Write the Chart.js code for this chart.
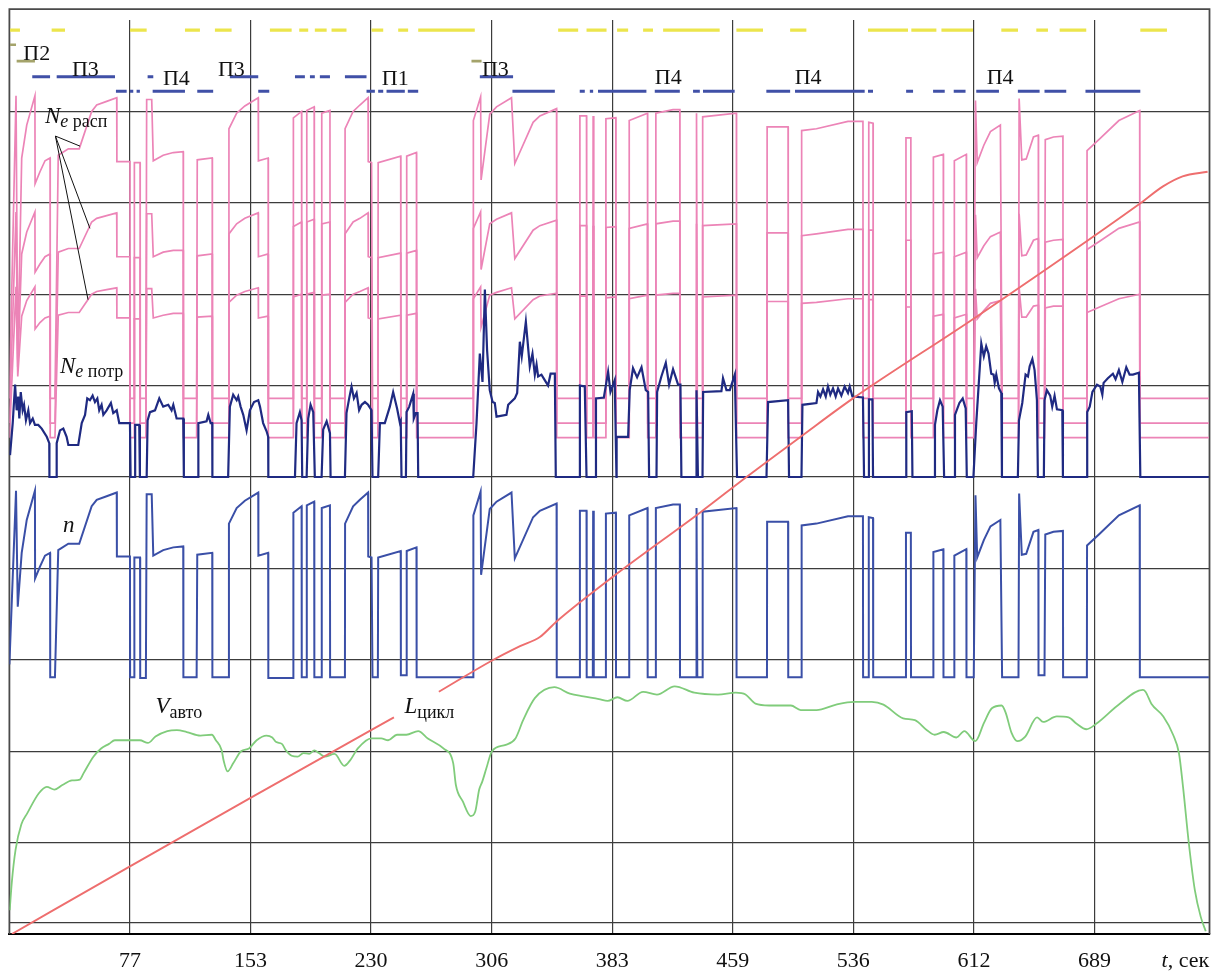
<!DOCTYPE html>
<html>
<head>
<meta charset="utf-8">
<title>Цикл движения</title>
<script src="https://cdn.jsdelivr.net/npm/chart.js@4.4.0/dist/chart.umd.min.js"></script>
<style>
  html, body { margin: 0; padding: 0; background: #ffffff; }
  canvas { display: block; }
</style>
</head>
<body>
<canvas id="cycle" width="1217" height="973"></canvas>
<script>
// ---- axes ----
const xTickValues = [76.5, 153, 229.5, 306, 382.5, 459, 535.5, 612, 688.5];
const xTickLabels = ['77', '153', '230', '306', '383', '459', '536', '612', '689'];
const yGridValues = [0, 0.12, 1, 2, 3, 4, 5, 6, 7, 8, 9];
const timeMax = 761.5;
const frameTop = 10.12;

// ---- vehicle speed V_авто, [t, value] ----
const speedV = [[0.2,0.26],[1.5,0.56],[3.9,0.92],[7.6,1.20],[11.3,1.32],[18.7,1.54],[23.7,1.61],[28.6,1.58],[33.6,1.63],[39.7,1.68],[44.7,1.69],[47.1,1.76],[53.3,1.94],[58.2,2.03],[63.2,2.08],[66.9,2.12],[75.5,2.12],[82.8,2.12],[87.9,2.09],[92.7,2.16],[100.2,2.22],[106.3,2.23],[112.5,2.21],[121.2,2.17],[128.5,2.18],[131.0,2.12],[134.7,2.01],[135.9,1.90],[138.4,1.78],[142.1,1.87],[147.0,2.00],[152.0,2.03],[156.9,2.12],[163.1,2.17],[166.8,2.15],[169.3,2.10],[172.9,2.08],[175.4,2.01],[179.1,1.95],[182.9,1.94],[186.5,1.98],[190.2,1.97],[193.5,2.01],[196.4,1.98],[200.1,1.94],[206.3,1.97],[212.5,1.84],[216.2,1.90],[221.1,2.03],[229.7,2.14],[235.9,2.14],[240.3,2.12],[245.9,2.18],[251.9,2.18],[259.4,2.22],[265.5,2.14],[275.4,2.03],[281.6,1.87],[283.3,1.63],[287.7,1.45],[292.7,1.29],[295.6,1.34],[298.1,1.58],[300.1,1.67],[302.6,1.81],[306.2,2.00],[314.9,2.07],[321.1,2.14],[326.0,2.34],[333.4,2.58],[345.8,2.70],[355.6,2.63],[364.3,2.60],[374.1,2.57],[379.6,2.55],[385.8,2.59],[392.1,2.55],[402.1,2.65],[410.9,2.62],[422.1,2.71],[434.6,2.64],[449.6,2.62],[460.9,2.64],[467.1,2.62],[473.4,2.52],[482.1,2.50],[495.9,2.50],[502.1,2.45],[512.1,2.45],[524.6,2.51],[535.9,2.54],[547.2,2.54],[554.6,2.51],[567.1,2.36],[574.6,2.34],[582.2,2.23],[587.1,2.18],[592.9,2.21],[600.9,2.15],[605.9,2.22],[612.9,2.11],[618.4,2.31],[623.4,2.47],[629.6,2.50],[632.2,2.42],[635.9,2.20],[639.6,2.11],[644.6,2.16],[652.1,2.37],[655.9,2.32],[664.6,2.38],[672.1,2.37],[677.2,2.30],[683.4,2.24],[689.6,2.30],[704.6,2.52],[719.2,2.67],[720.9,2.65],[724.6,2.52],[732.2,2.38],[738.4,2.18],[742.1,1.98],[744.7,1.61],[748.4,0.99],[752.2,0.48],[755.9,0.19],[759.1,0.03]];

// ---- cycle distance L_цикл (null leaves room for its label) ----
const distanceL = [[1.6,0],[76.5,0.74],[153,1.49],[229.5,2.23],[244,2.37],[258,null],[272.5,2.65],[306,2.99],[324,3.15],[336.6,3.25],[347.2,3.42],[383,3.91],[439,4.62],[467.7,5.00],[503.6,5.46],[535.3,5.86],[612.5,6.74],[717.2,7.99],[732,8.18],[744.4,8.29],[760.3,8.34]];

// ---- engine speed n and available power N_e расп (three curves), shared time base ----
const engineTime = [0,4.2,5.3,7.8,11.0,16.2,16.3,19.4,22.6,25.8,
  25.9,28.9,31.0,37.4,44.3,52.2,55.4,61.7,68.1,68.2,
  76.5,76.6,79.2,79.3,82.9,83.0,86.6,87.1,90.3,91.3,
  97.6,104.0,110.3,110.4,118.8,119.2,128.7,128.8,138.8,139.3,
  144.2,149.4,157.9,158.0,164.2,164.3,180.1,180.2,185.4,185.5,
  188.6,188.7,193.4,193.5,198.1,198.2,203.4,203.5,212.9,213.0,
  218.1,222.4,227.6,227.7,229.8,230.4,233.8,234.0,248.3,248.4,
  252.0,252.1,258.3,258.4,294.3,294.4,299.0,299.3,304.8,309.1,
  318.6,320.7,332.3,336.6,347.2,347.3,361.9,362.0,366.2,366.3,
  370.2,370.4,370.8,378.4,378.5,384.8,384.9,393.2,393.3,404.9,
  405.0,410.1,410.2,421.1,425.4,425.5,435.8,436.0,436.5,439.8,
  439.9,461.3,461.4,480.7,480.8,494.1,494.2,502.6,502.7,512.1,
  532.1,541.6,541.7,545.2,545.3,548.0,548.1,568.8,568.9,572.0,
  572.1,586.2,586.3,592.6,592.7,599.5,599.6,607.2,607.3,611.9,
  613.0,614.1,618.3,622.5,628.8,629.9,640.3,640.7,642.4,645.2,
  649.8,652.9,653.0,656.8,657.3,662.5,668.5,668.6,683.7,683.8,
  691.8,704.0,717.2,717.3,761.1];

const engineN = [2.95,4.85,3.58,4.17,4.53,4.85,3.89,4.02,4.14,4.17,
  2.81,2.81,4.20,4.27,4.27,4.68,4.75,4.79,4.83,4.13,
  4.13,2.81,2.81,4.12,4.12,2.80,2.80,4.81,4.81,4.14,
  4.20,4.23,4.24,2.81,2.81,4.15,4.17,2.81,2.81,4.49,
  4.66,4.74,4.83,4.14,4.17,2.80,2.80,4.61,4.68,2.81,
  2.81,4.69,4.73,2.81,2.81,4.66,4.69,2.81,2.81,4.49,
  4.68,4.75,4.83,4.13,4.12,2.81,2.81,4.12,4.19,2.83,
  2.83,4.19,4.23,2.81,2.81,4.58,4.84,3.93,4.65,4.73,
  4.83,4.11,4.56,4.63,4.71,2.81,2.81,4.63,4.63,2.81,
  2.81,4.63,2.81,2.81,4.60,4.61,2.81,2.81,4.58,4.66,
  2.81,2.81,4.66,4.70,4.70,2.81,2.81,4.66,2.81,2.81,
  4.62,4.66,2.81,2.81,4.51,4.51,2.81,2.81,4.47,4.49,
  4.57,4.57,2.81,2.81,4.56,4.55,2.81,2.81,4.39,4.39,
  2.81,2.81,4.18,4.21,2.81,2.81,4.14,4.21,2.81,2.81,
  4.80,4.12,4.31,4.46,4.53,2.81,2.81,4.82,4.15,4.16,
  4.40,4.42,2.83,2.83,4.37,4.40,4.41,2.81,2.81,4.25,
  4.38,4.58,4.69,2.81,2.81];

const availHigh = [5.86,9.17,6.28,8.49,8.85,9.17,8.21,8.34,8.46,8.49,
  5.86,5.86,8.52,8.59,8.59,9.00,9.07,9.11,9.15,8.45,
  8.45,5.86,5.86,8.44,8.44,5.86,5.86,9.13,9.13,8.46,
  8.52,8.55,8.56,5.86,5.86,8.47,8.49,5.86,5.86,8.81,
  8.98,9.06,9.15,8.46,8.49,5.86,5.86,8.93,9.00,5.86,
  5.86,9.01,9.05,5.86,5.86,8.98,9.01,5.86,5.86,8.81,
  9.00,9.07,9.15,8.45,8.44,5.86,5.86,8.44,8.51,5.86,
  5.86,8.51,8.55,5.86,5.86,8.90,9.16,8.25,8.97,9.05,
  9.15,8.43,8.88,8.95,9.03,5.86,5.86,8.95,8.95,5.86,
  5.86,8.95,5.86,5.86,8.92,8.93,5.86,5.86,8.90,8.98,
  5.86,5.86,8.98,9.02,9.02,5.86,5.86,8.98,5.86,5.86,
  8.94,8.98,5.86,5.86,8.83,8.83,5.86,5.86,8.79,8.81,
  8.89,8.89,5.86,5.86,8.88,8.87,5.86,5.86,8.71,8.71,
  5.86,5.86,8.50,8.53,5.86,5.86,8.46,8.53,5.86,5.86,
  9.12,8.44,8.63,8.78,8.85,5.86,5.86,9.14,8.47,8.48,
  8.72,8.74,5.86,5.86,8.69,8.72,8.73,5.86,5.86,8.57,
  8.70,8.90,9.01,5.86,5.86];

const availMid = [5.59,7.90,6.20,7.44,7.68,7.90,7.24,7.33,7.41,7.44,
  5.59,5.59,7.46,7.50,7.50,7.79,7.83,7.86,7.89,7.41,
  7.41,5.59,5.59,7.40,7.40,5.59,5.59,7.88,7.88,7.41,
  7.46,7.48,7.48,5.59,5.59,7.42,7.44,5.59,5.59,7.66,
  7.77,7.83,7.89,7.41,7.44,5.59,5.59,7.74,7.79,5.59,
  5.59,7.79,7.82,5.59,5.59,7.77,7.79,5.59,5.59,7.66,
  7.79,7.83,7.89,7.41,7.40,5.59,5.59,7.40,7.45,5.59,
  5.59,7.45,7.48,5.59,5.59,7.72,7.90,7.27,7.77,7.82,
  7.89,7.39,7.70,7.75,7.81,5.59,5.59,7.75,7.75,5.59,
  5.59,7.75,5.59,5.59,7.73,7.74,5.59,5.59,7.72,7.77,
  5.59,5.59,7.77,7.80,7.80,5.59,5.59,7.77,5.59,5.59,
  7.75,7.77,5.59,5.59,7.67,7.67,5.59,5.59,7.64,7.66,
  7.71,7.71,5.59,5.59,7.70,7.70,5.59,5.59,7.59,7.59,
  5.59,5.59,7.44,7.46,5.59,5.59,7.41,7.46,5.59,5.59,
  7.87,7.40,7.53,7.63,7.68,5.59,5.59,7.88,7.42,7.43,
  7.59,7.61,5.59,5.59,7.57,7.59,7.60,5.59,5.59,7.49,
  7.58,7.72,7.79,5.59,5.59];

const availLow = [5.43,7.08,6.10,6.76,6.93,7.08,6.62,6.69,6.74,6.76,
  5.43,5.43,6.77,6.80,6.80,7.00,7.03,7.05,7.07,6.74,
  6.74,5.43,5.43,6.73,6.73,5.43,5.43,7.06,7.06,6.74,
  6.77,6.79,6.79,5.43,5.43,6.75,6.76,5.43,5.43,6.91,
  6.99,7.03,7.07,6.74,6.76,5.43,5.43,6.97,7.00,5.43,
  5.43,7.00,7.02,5.43,5.43,6.99,7.00,5.43,5.43,6.91,
  7.00,7.03,7.07,6.74,6.73,5.43,5.43,6.73,6.77,5.43,
  5.43,6.77,6.79,5.43,5.43,6.95,7.08,6.64,6.99,7.02,
  7.07,6.73,6.94,6.98,7.01,5.43,5.43,6.98,6.98,5.43,
  5.43,6.98,5.43,5.43,6.96,6.97,5.43,5.43,6.95,6.99,
  5.43,5.43,6.99,7.01,7.01,5.43,5.43,6.99,5.43,5.43,
  6.97,6.99,5.43,5.43,6.92,6.92,5.43,5.43,6.90,6.91,
  6.95,6.95,5.43,5.43,6.94,6.94,5.43,5.43,6.86,6.86,
  5.43,5.43,6.76,6.78,5.43,5.43,6.74,6.78,5.43,5.43,
  7.06,6.73,6.82,6.90,6.93,5.43,5.43,7.07,6.75,6.75,
  6.87,6.88,5.43,5.43,6.85,6.87,6.87,5.43,5.43,6.80,
  6.86,6.95,7.00,5.43,5.43];

// ---- required power N_e потр, [t, value] ----
const powerReq = [[0.4,5.24],[2.1,5.59],[3.6,6.01],[4.6,5.73],[5.6,5.88],[6.3,5.64],[7.2,5.93],[8.4,5.73],[9.3,5.79],[10.5,5.62],[12.0,5.73],[13.1,5.59],[14.8,5.64],[16.2,5.57],[18.3,5.57],[20.5,5.53],[23.7,5.44],[25.3,5.37],[25.4,5.00],[29.6,5.00],[30.0,5.37],[32.1,5.51],[34.2,5.53],[36.3,5.44],[37.4,5.35],[43.7,5.35],[45.9,5.59],[48.0,5.68],[49.4,5.86],[51.1,5.84],[52.8,5.89],[54.3,5.82],[55.8,5.86],[57.0,5.73],[58.5,5.79],[59.6,5.68],[61.7,5.73],[64.4,5.81],[65.9,5.70],[68.1,5.73],[69.7,5.59],[76.5,5.59],[76.9,5.00],[79.7,5.00],[79.8,5.57],[82.4,5.57],[82.8,5.00],[87.1,5.00],[87.7,5.62],[89.2,5.71],[92.4,5.73],[95.1,5.86],[97.6,5.77],[100.8,5.79],[102.9,5.73],[104.0,5.79],[106.1,5.64],[110.3,5.64],[110.7,5.00],[119.8,5.00],[119.9,5.59],[125.1,5.61],[126.2,5.68],[127.7,5.59],[128.7,5.59],[128.8,5.00],[138.8,5.00],[139.9,5.77],[142.0,5.90],[144.2,5.84],[145.2,5.88],[146.7,5.77],[148.4,5.68],[150.5,5.51],[152.6,5.73],[155.2,5.82],[157.9,5.84],[159.0,5.77],[161.0,5.59],[163.2,5.50],[164.2,5.44],[164.3,5.00],[181.2,5.00],[182.2,5.59],[184.3,5.71],[185.4,5.62],[185.8,5.00],[188.6,5.00],[189.6,5.64],[191.1,5.79],[192.8,5.71],[193.8,5.00],[198.1,5.00],[199.1,5.52],[201.3,5.61],[203.4,5.48],[203.8,5.00],[212.9,5.00],[213.9,5.70],[215.6,5.86],[217.1,5.99],[218.6,5.86],[220.3,5.92],[221.9,5.73],[223.5,5.79],[225.6,5.82],[227.6,5.79],[229.8,5.73],[230.4,5.00],[234.0,5.00],[235.1,5.59],[238.2,5.59],[241.4,5.77],[243.5,5.93],[246.0,5.75],[247.8,5.59],[248.3,5.61],[248.8,5.00],[251.6,5.00],[252.0,5.71],[253.7,5.77],[256.2,5.91],[256.6,5.64],[257.9,5.70],[259.0,5.70],[259.4,5.00],[294.3,5.00],[296.4,5.59],[298.5,6.35],[300.2,6.04],[301.7,7.05],[303.1,6.39],[304.8,5.95],[306.6,5.82],[308.0,5.81],[309.1,5.66],[315.4,5.68],[316.5,5.79],[320.7,5.86],[322.2,5.92],[323.9,6.48],[325.1,6.32],[327.7,6.70],[330.2,6.21],[331.9,6.35],[333.4,6.12],[334.5,6.23],[335.5,6.10],[337.6,6.12],[339.7,6.06],[341.8,6.00],[343.4,6.13],[346.1,6.13],[346.7,5.00],[361.9,5.00],[362.0,6.00],[365.1,5.99],[366.2,5.00],[372.1,5.00],[372.2,5.86],[377.2,5.87],[379.9,6.15],[381.4,5.93],[384.1,6.06],[385.2,5.00],[385.3,5.44],[392.6,5.44],[393.6,5.95],[395.7,6.19],[398.3,6.09],[401.1,6.20],[403.8,5.95],[405.3,5.93],[405.9,5.00],[410.6,5.00],[411.0,5.93],[413.7,6.10],[416.5,6.25],[418.6,6.01],[421.1,6.18],[424.3,6.01],[425.8,6.01],[426.4,5.00],[435.8,5.00],[436.0,5.95],[436.9,5.00],[439.8,5.00],[440.2,5.93],[451.8,5.94],[452.8,6.08],[455.0,5.95],[457.1,5.95],[460.3,6.12],[461.7,5.00],[480.4,5.00],[481.4,5.82],[494.1,5.84],[494.7,5.00],[502.6,5.00],[503.2,5.79],[512.1,5.81],[513.1,5.93],[514.6,5.88],[516.3,5.96],[518.0,5.88],[519.4,5.99],[520.9,5.90],[522.6,5.97],[524.3,5.88],[525.8,5.97],[527.9,5.89],[530.0,5.99],[532.1,5.92],[533.2,5.99],[534.9,5.88],[541.6,5.87],[542.3,5.00],[545.2,5.00],[545.4,5.85],[547.6,5.85],[548.0,5.00],[569.0,5.00],[569.1,5.71],[572.6,5.72],[573.0,5.00],[586.7,5.00],[587.3,5.57],[588.8,5.73],[590.5,5.84],[592.2,5.77],[593.1,5.00],[599.4,5.00],[600.0,5.68],[602.8,5.81],[604.9,5.86],[606.8,5.75],[607.5,5.00],[611.7,5.00],[613.5,5.59],[616.7,6.46],[618.3,6.32],[619.8,6.43],[621.3,6.35],[623.0,6.13],[624.5,6.12],[625.2,6.03],[626.2,6.12],[627.9,5.97],[629.4,5.92],[629.8,5.00],[639.9,5.00],[640.6,5.62],[642.7,5.81],[644.8,6.12],[646.3,6.10],[647.4,6.21],[649.1,6.29],[650.5,6.17],[652.0,5.84],[652.6,5.00],[656.4,5.00],[656.8,5.84],[658.3,5.95],[660.4,5.89],[661.7,5.77],[663.2,5.89],[664.7,5.74],[668.1,5.73],[668.5,5.00],[683.8,5.00],[683.9,5.71],[685.5,5.77],[687.2,5.93],[690.1,6.01],[692.2,5.99],[693.5,5.90],[694.3,6.03],[697.0,6.08],[700.2,6.13],[701.9,6.07],[704.0,6.17],[706.2,6.04],[708.7,6.20],[710.8,6.12],[712.9,6.12],[716.7,6.14],[717.6,5.00],[761.1,5.00]];

// ---- mode strips along the top, [start, end] in seconds ----
const yellowSpans = [[0.4,6.7],[26.8,35.3],[76.5,87.1],[111.4,120.9],[130.4,141.0],[165.3,179.1],[183.9,189.6],[193.8,201.3],[204.4,213.9],[229.8,237.2],[246.7,253.0],[259.4,295.3],[348.2,360.9],[366.2,378.9],[385.6,392.6],[402.1,408.4],[414.8,450.7],[461.3,478.2],[495.4,505.7],[544.8,570.2],[572.3,588.2],[591.4,611.4],[629.4,640.0],[651.6,659.0],[666.4,683.3],[717.6,734.5]];
const modeUpperSpans = [[14.5,25.8],[30.0,67.0],[87.7,91.3],[139.9,157.9],[181.2,187.5],[190.7,193.8],[197.0,203.4],[212.9,226.6],[298.5,319.6]];
const modeLowerSpans = [[67.6,74.4],[76.5,78.6],[80.7,82.8],[90.9,111.4],[119.2,129.3],[157.9,164.9],[226.6,231.9],[234.0,237.2],[239.3,250.9],[252.8,259.4],[319.2,346.1],[361.9,365.1],[368.3,370.4],[373.5,404.2],[409.5,425.4],[433.8,438.1],[440.1,460.2],[480.3,495.4],[498.5,542.7],[544.8,548.0],[569.0,573.4],[586.1,593.5],[599.2,606.7],[613.5,627.9],[639.9,653.7],[656.8,670.6],[682.8,717.6]];
const oliveHighSpans = [[0.4,4.2]];
const oliveLowSpans = [[4.6,16.2],[293.2,299.6]];
const stripLevels = { yellow: 9.89, upper: 9.38, lower: 9.22, oliveHigh: 9.73, oliveLow: 9.55 };

// ---- text labels: [t, value] anchor, then pieces [text, style, size, baseline shift] ----
const textNotes = [
  { t: 8.8,   v: 9.56, parts: [['П2', '', 22, 0]] },
  { t: 39.7,  v: 9.39, parts: [['П3', '', 22, 0]] },
  { t: 97.4,  v: 9.29, parts: [['П4', '', 22, 0]] },
  { t: 132.3, v: 9.39, parts: [['П3', '', 22, 0]] },
  { t: 236.3, v: 9.29, parts: [['П1', '', 22, 0]] },
  { t: 299.8, v: 9.39, parts: [['П3', '', 22, 0]] },
  { t: 409.5, v: 9.30, parts: [['П4', '', 22, 0]] },
  { t: 498.3, v: 9.30, parts: [['П4', '', 22, 0]] },
  { t: 620.1, v: 9.30, parts: [['П4', '', 22, 0]] },
  { t: 22.6,  v: 8.87, parts: [['N', 'italic', 23, 0], ['e', 'italic', 18, 4], [' расп', '', 18, 4]] },
  { t: 32.1,  v: 6.14, parts: [['N', 'italic', 23, 0], ['e', 'italic', 18, 4], [' потр', '', 18, 4]] },
  { t: 34.0,  v: 4.40, parts: [['n', 'italic', 23, 0]] },
  { t: 92.7,  v: 2.42, parts: [['V', 'italic', 23, 0], ['авто', '', 18, 5]] },
  { t: 250.7, v: 2.42, parts: [['L', 'italic', 23, 0], ['цикл', '', 18, 5]] },
  { t: 731.1, v: -0.36, parts: [['t', 'italic', 22, 0], [', сек', '', 22, 0]] }
];
// leader lines from the N_e расп label to its three curves: [t1, v1, t2, v2]
const leaderLines = [[29.2, 8.73, 44.8, 8.62], [29.2, 8.73, 51.1, 7.72], [29.2, 8.73, 49.9, 6.94]];

// ---- building datasets ----
const fromPairs = arr => arr.map(p => ({ x: p[0], y: p[1] }));
const fromColumns = (ts, vs) => ts.map((t, i) => ({ x: t, y: vs[i] }));
function fromSpans(spans, level) {
  const out = [];
  spans.forEach(([a, b]) => { out.push({ x: a, y: level }, { x: b, y: level }, { x: b, y: null }); });
  return out;
}

const serif = '"Liberation Serif", "Times New Roman", serif';

function lineSet(label, data, color, width, extra) {
  return Object.assign({
    label, data, borderColor: color, backgroundColor: color, borderWidth: width,
    pointRadius: 0, pointHoverRadius: 0, fill: false, tension: 0, spanGaps: false
  }, extra || {});
}

const datasets = [
  lineSet('L цикл', fromPairs(distanceL), '#ee6e6e', 1.9, { cubicInterpolationMode: 'monotone' }),
  lineSet('V авто', fromPairs(speedV), '#80cc7b', 1.8, { cubicInterpolationMode: 'monotone' }),
  lineSet('n', fromColumns(engineTime, engineN), '#3a4fa7', 2.0),
  lineSet('Ne потр', fromPairs(powerReq), '#1f2a82', 2.2),
  lineSet('Ne расп 1', fromColumns(engineTime, availHigh), '#ec84b7', 1.7),
  lineSet('Ne расп 2', fromColumns(engineTime, availMid), '#ec84b7', 1.7),
  lineSet('Ne расп 3', fromColumns(engineTime, availLow), '#ec84b7', 1.7),
  lineSet('yellow', fromSpans(yellowSpans, stripLevels.yellow), '#ece54c', 3.2),
  lineSet('upper', fromSpans(modeUpperSpans, stripLevels.upper), '#4050a7', 3.0),
  lineSet('lower', fromSpans(modeLowerSpans, stripLevels.lower), '#4050a7', 3.0),
  lineSet('oliveHigh', fromSpans(oliveHighSpans, stripLevels.oliveHigh), '#a4a36b', 2.6),
  lineSet('oliveLow', fromSpans(oliveLowSpans, stripLevels.oliveLow), '#a4a36b', 2.6)
];

// outer frame (top edge sits above the gridded area)
const framePlugin = {
  id: 'frame',
  beforeDatasetsDraw(chart) {
    const { ctx, chartArea, scales } = chart;
    const top = scales.y.getPixelForValue(frameTop);
    ctx.save();
    ctx.strokeStyle = '#4a4a4a';
    ctx.lineWidth = 1.8;
    ctx.beginPath();
    ctx.moveTo(chartArea.left, chartArea.bottom);
    ctx.lineTo(chartArea.left, top);
    ctx.lineTo(chartArea.right, top);
    ctx.lineTo(chartArea.right, chartArea.bottom);
    ctx.stroke();
    ctx.restore();
  }
};

// text labels and leader lines
const notesPlugin = {
  id: 'notes',
  afterDraw(chart) {
    const { ctx, scales } = chart;
    const px = t => scales.x.getPixelForValue(t);
    const py = v => scales.y.getPixelForValue(v);
    ctx.save();
    ctx.strokeStyle = '#111';
    ctx.lineWidth = 1;
    leaderLines.forEach(([t1, v1, t2, v2]) => {
      ctx.beginPath();
      ctx.moveTo(px(t1), py(v1));
      ctx.lineTo(px(t2), py(v2));
      ctx.stroke();
    });
    ctx.fillStyle = '#111';
    ctx.textBaseline = 'alphabetic';
    ctx.textAlign = 'left';
    textNotes.forEach(note => {
      let x = px(note.t);
      const y = py(note.v);
      note.parts.forEach(([txt, style, size, dy]) => {
        ctx.font = (style ? style + ' ' : '') + size + 'px ' + serif;
        ctx.fillText(txt, x, y + dy);
        x += ctx.measureText(txt).width;
      });
    });
    ctx.restore();
  }
};

new Chart(document.getElementById('cycle'), {
  type: 'line',
  data: { datasets },
  plugins: [framePlugin, notesPlugin],
  options: {
    responsive: false,
    devicePixelRatio: 1,
    animation: false,
    events: [],
    layout: { padding: { left: 9.4, right: 7.5, top: 20, bottom: 1 } },
    plugins: { legend: { display: false }, tooltip: { enabled: false } },
    scales: {
      x: {
        type: 'linear',
        min: 0,
        max: timeMax,
        afterBuildTicks: scale => { scale.ticks = xTickValues.map(v => ({ value: v })); },
        afterFit: scale => { scale.height = 38; },
        ticks: {
          autoSkip: false,
          maxRotation: 0,
          padding: 16,
          color: '#111',
          font: { family: serif, size: 22, lineHeight: 1.0 },
          callback: (value, index) => xTickLabels[index]
        },
        grid: { color: '#3c3c3c', lineWidth: 1.2, drawTicks: false },
        border: { display: true, color: '#000', width: 2 }
      },
      y: {
        type: 'linear',
        min: 0,
        max: 10,
        afterBuildTicks: scale => { scale.ticks = yGridValues.map(v => ({ value: v })); },
        ticks: { display: false },
        grid: { color: '#3c3c3c', lineWidth: 1.2, drawTicks: false },
        border: { display: false }
      }
    }
  }
});
</script>
</body>
</html>
